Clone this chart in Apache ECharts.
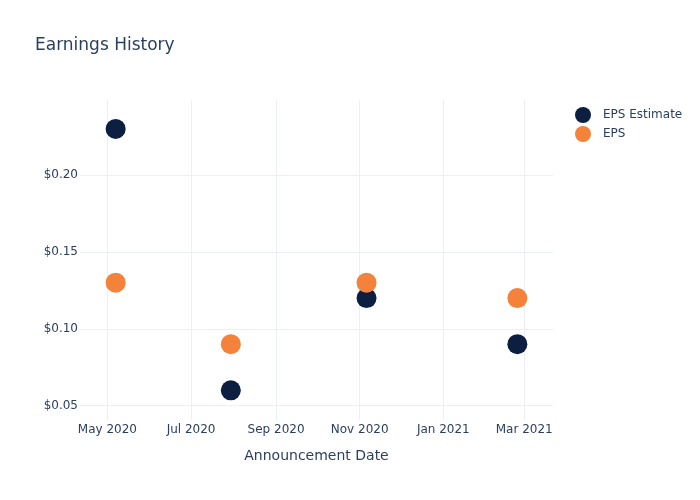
<!DOCTYPE html>
<html>
<head>
<meta charset="utf-8">
<script src="https://cdn.jsdelivr.net/npm/echarts@6/dist/echarts.min.js"></script>
<style>html,body{margin:0;padding:0;background:#fff}#c{width:700px;height:500px}</style>
</head>
<body>
<div id="c"></div>
<script>
var dates = ['2020-05-07', '2020-07-30', '2020-11-06', '2021-02-24'];
var epsEstimate = [0.23, 0.06, 0.12, 0.09];
var eps = [0.13, 0.09, 0.13, 0.12];
var monthNames = ['Jan','Feb','Mar','Apr','May','Jun','Jul','Aug','Sep','Oct','Nov','Dec'];

var font = 'DejaVu Sans';
var textColor = '#2a3f5f';
var gridColor = '#ebf0f8';

function pairs(vals) {
  return dates.map(function (d, i) { return [d, vals[i]]; });
}

var chart = echarts.init(document.getElementById('c'), null, {renderer: 'canvas'});
chart.setOption({
  animation: false,
  backgroundColor: '#fff',
  textStyle: {fontFamily: font},
  title: {
    text: 'Earnings History',
    left: 35, top: 37, padding: 0,
    textStyle: {fontFamily: font, fontSize: 17, fontWeight: 'normal', color: textColor}
  },
  legend: {
    orient: 'vertical',
    left: 575, top: 107, padding: 0,
    itemWidth: 16, itemHeight: 16, itemGap: 3,
    icon: 'circle',
    textStyle: {fontFamily: font, fontSize: 12, color: textColor, padding: [0, 0, 0, 7]},
    data: ['EPS Estimate', 'EPS']
  },
  grid: {left: 80, right: 147, top: 100, bottom: 80, containLabel: false},
  xAxis: {
    type: 'time',
    min: '2020-04-11',
    max: '2021-03-22',
    minInterval: 65 * 24 * 3600 * 1000,
    maxInterval: 65 * 24 * 3600 * 1000,
    name: 'Announcement Date',
    nameLocation: 'middle',
    nameGap: 29,
    nameTextStyle: {fontFamily: font, fontSize: 14, color: textColor},
    axisLine: {show: false},
    axisTick: {show: false},
    axisLabel: {
      fontFamily: font, fontSize: 12, color: textColor, margin: 4,
      showMinLabel: false, showMaxLabel: false,
      formatter: function (v) {
        var d = new Date(v);
        return monthNames[d.getMonth()] + ' ' + d.getFullYear();
      }
    },
    splitLine: {show: true, showMinLine: false, showMaxLine: false, lineStyle: {color: gridColor, width: 1}}
  },
  yAxis: {
    type: 'value',
    min: 0.0407,
    max: 0.2488,
    splitNumber: 4,
    axisLine: {show: false},
    axisTick: {show: false},
    axisLabel: {
      fontFamily: font, fontSize: 12, color: textColor, margin: 2,
      showMinLabel: false, showMaxLabel: false,
      formatter: function (v) { return '$' + v.toFixed(2); }
    },
    splitLine: {show: true, showMinLine: false, showMaxLine: false, lineStyle: {color: gridColor, width: 1}}
  },
  series: [
    {
      name: 'EPS Estimate', type: 'scatter', symbol: 'circle', symbolSize: 20,
      itemStyle: {color: '#0c1f40', opacity: 1},
      data: pairs(epsEstimate), z: 2
    },
    {
      name: 'EPS', type: 'scatter', symbol: 'circle', symbolSize: 20,
      itemStyle: {color: '#f5823a', opacity: 1},
      data: pairs(eps), z: 3
    }
  ]
});
</script>
</body>
</html>
